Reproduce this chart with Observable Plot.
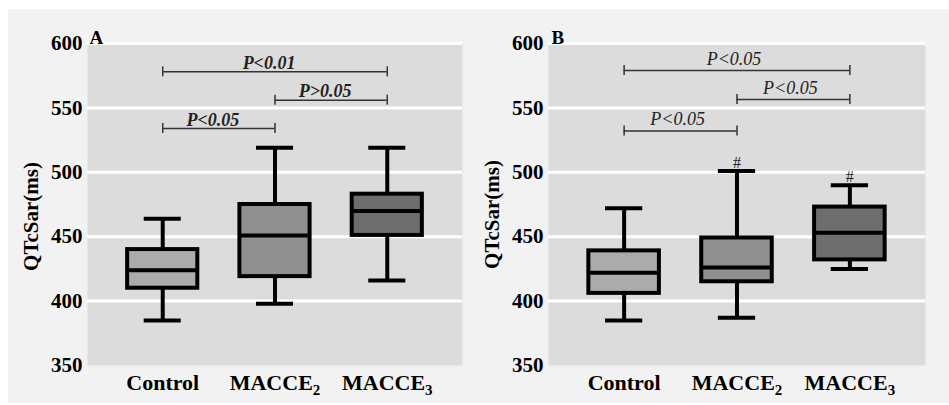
<!DOCTYPE html>
<html><head><meta charset="utf-8">
<script src="https://cdn.jsdelivr.net/npm/d3@7"></script>
<script src="https://cdn.jsdelivr.net/npm/@observablehq/plot@0.6"></script>
<style>
body{margin:0;background:#fff;}
#wrap{position:relative;width:949px;height:405px;overflow:hidden;}
#bg{position:absolute;left:8px;top:9px;right:0;bottom:2px;background:#f2f2f2;}
.panel{position:absolute;top:0;}
</style></head><body>
<div id="wrap"><div id="bg"></div><div id="pA" class="panel" style="left:0"></div><div id="pB" class="panel" style="left:475px"></div></div>
<script>
// Categories and tick labels
const groups = ["Control", "MACCE2", "MACCE3"];
const yTicks = [350, 400, 450, 500, 550, 600];
const gridValues = [400, 450, 500, 550, 600];

// Panel A box statistics (ms)
const aMin = [385, 398, 416];
const aQ1 = [410, 419, 451];
const aMedian = [424, 451, 470];
const aQ3 = [440, 475, 483];
const aMax = [464, 519, 519];
// Panel A comparisons
const aFrom = [1, 2, 1];
const aTo = [3, 3, 2];
const aLevel = [578, 556, 534];
const aLabel = ["P<0.01", "P>0.05", "P<0.05"];

// Panel B box statistics (ms)
const bMin = [385, 387, 425];
const bQ1 = [406, 415, 432];
const bMedian = [422, 426, 453];
const bQ3 = [439, 449, 473];
const bMax = [472, 501, 490];
const bHash = ["", "#", "#"];
// Panel B comparisons
const bFrom = [1, 2, 1];
const bTo = [3, 3, 2];
const bLevel = [579, 556.5, 532];
const bLabel = ["P<0.05", "P<0.05", "P<0.05"];

const boxColors = ["#ababab", "#8f8f8f", "#6e6e6e"];
const serif = "'Liberation Serif', 'Times New Roman', Times, serif";

function panel(cfg) {
  const boxes = groups.map((g, i) => ({
    i: i + 1, g, min: cfg.min[i], q1: cfg.q1[i], med: cfg.median[i], q3: cfg.q3[i], max: cfg.max[i],
    hash: cfg.hash ? cfg.hash[i] : ""
  }));
  const brackets = cfg.level.map((y, k) => ({a: cfg.from[k], b: cfg.to[k], y, label: cfg.label[k]}));
  const hw = 0.3125, cw = 0.165;
  const th = 5 * 250 / 322;
  const chart = Plot.plot({
    width: cfg.width, height: 405,
    marginLeft: cfg.marginLeft, marginRight: cfg.marginRight, marginTop: 43, marginBottom: 40,
    style: {background: "transparent", fontFamily: serif, fontSize: "21px", fontWeight: "bold", color: "#000", overflow: "visible"},
    x: {type: "linear", domain: [0.33, 3.67], ticks: [1, 2, 3], tickFormat: d => groups[d - 1], tickSize: 0, tickPadding: 9, label: null},
    y: {domain: [350, 600], ticks: yTicks, tickSize: 0, tickPadding: 5, label: null},
    marks: [
      Plot.frame({fill: "#dcdcdc", stroke: "none"}),
      Plot.ruleY(gridValues, {stroke: "#fff", strokeWidth: 3}),
      Plot.ruleX(boxes, {x: "i", y1: "q3", y2: "max", stroke: "#000", strokeWidth: 4}),
      Plot.ruleX(boxes, {x: "i", y1: "min", y2: "q1", stroke: "#000", strokeWidth: 4}),
      Plot.ruleY(boxes, {y: "max", x1: d => d.i - cw, x2: d => d.i + cw, stroke: "#000", strokeWidth: 4}),
      Plot.ruleY(boxes, {y: "min", x1: d => d.i - cw, x2: d => d.i + cw, stroke: "#000", strokeWidth: 4}),
      Plot.rect(boxes, {x1: d => d.i - hw, x2: d => d.i + hw, y1: "q1", y2: "q3", fill: d => boxColors[d.i - 1], stroke: "#000", strokeWidth: 4}),
      Plot.ruleY(boxes, {y: "med", x1: d => d.i - hw, x2: d => d.i + hw, stroke: "#000", strokeWidth: 4}),
      Plot.ruleY(brackets, {y: "y", x1: "a", x2: "b", stroke: "#333", strokeWidth: 1.5}),
      Plot.ruleX(brackets, {x: "a", y1: d => d.y - th, y2: d => d.y + th, stroke: "#333", strokeWidth: 1.5}),
      Plot.ruleX(brackets, {x: "b", y1: d => d.y - th, y2: d => d.y + th, stroke: "#333", strokeWidth: 1.5}),
      Plot.text(brackets, {x: d => (d.a + d.b) / 2, y: "y", text: "label", lineAnchor: "bottom", dy: cfg.pDy, dx: cfg.pDx,
        fontFamily: serif, fontStyle: "italic", fontWeight: cfg.pWeight, fontSize: cfg.pSize, fill: "#222"}),
      Plot.text(boxes, {x: "i", y: "max", text: "hash", lineAnchor: "bottom", dy: -3, fontFamily: serif, fontSize: 16, fontWeight: "normal", fill: "#222"}),
      Plot.text([cfg.letter], {frameAnchor: "top-left", textAnchor: "start", lineAnchor: "bottom", dx: cfg.letterDx, dy: 0, fontFamily: serif, fontSize: 19}),
      Plot.text(["QTcSar(ms)"], {frameAnchor: "left", rotate: -90, textAnchor: "middle", lineAnchor: "bottom", dx: -50, dy: cfg.titleDy, fontFamily: serif, fontSize: 21})
    ]
  });
  const svg = d3.select(chart.tagName.toLowerCase() === "svg" ? chart : chart.querySelector("svg"));
  svg.selectAll('g[aria-label^="x-axis"] text').attr("font-size", "22px");
  svg.selectAll("text").each(function() {
    const m = /^(MACCE)(\d)$/.exec(this.textContent);
    if (m) {
      const t = d3.select(this);
      this.textContent = "";
      t.append("tspan").text(m[1]);
      t.append("tspan").attr("dy", "0.3em").attr("font-size", "15px").text(m[2]);
    }
  });
  return chart;
}

document.getElementById("pA").appendChild(panel({
  width: 475, marginLeft: 87, marginRight: 13, letter: "A", letterDx: 2,
  min: aMin, q1: aQ1, median: aMedian, q3: aQ3, max: aMax,
  from: aFrom, to: aTo, level: aLevel, label: aLabel,
  pWeight: "bold", pSize: 18, pDx: -6, pDy: -3, titleDy: 12
}));
document.getElementById("pB").appendChild(panel({
  width: 474, marginLeft: 73, marginRight: 24, letter: "B", letterDx: 3,
  min: bMin, q1: bQ1, median: bMedian, q3: bQ3, max: bMax, hash: bHash,
  from: bFrom, to: bTo, level: bLevel, label: bLabel,
  pWeight: "normal", pSize: 18, pDx: -3, pDy: -6, titleDy: 10
}));
</script>
</body></html>
